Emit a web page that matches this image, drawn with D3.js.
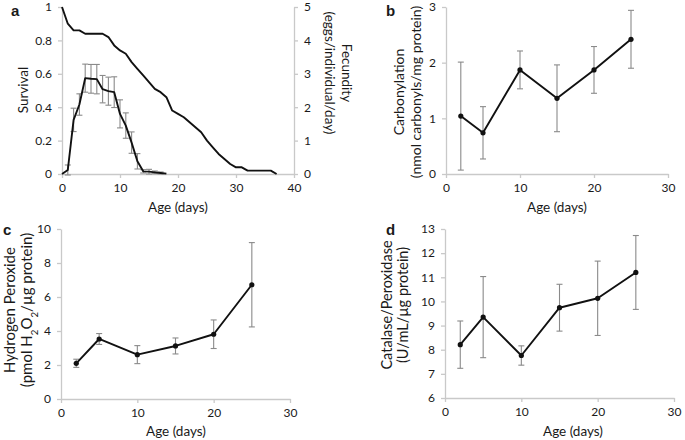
<!DOCTYPE html>
<html><head><meta charset="utf-8">
<script src="https://cdn.jsdelivr.net/npm/d3@7"></script>
<style>
body{margin:0;background:#fff}
text{font-family:Lato,"Open Sans",sans-serif;fill:#1a1a1a}
</style></head>
<body><svg id="chart" width="685" height="440"></svg>
<script>
// ---- Panel a data ----
const survivalDays = [0,1,2,3,4,5,6,7,8,9,10,11,12,13,14,15,16,17,18,19,20,21,22,23,24,25,26,27,28,29,30,31,32,33,34,35,36,37];
const survival = [1.00,0.90,0.86,0.86,0.84,0.84,0.84,0.84,0.82,0.77,0.74,0.72,0.67,0.63,0.59,0.55,0.51,0.49,0.46,0.38,0.36,0.34,0.31,0.28,0.25,0.20,0.16,0.12,0.09,0.06,0.04,0.04,0.02,0.02,0.02,0.02,0.02,0.00];
const fecundityDays = [0,1,2,3,4,5,6,7,8,9,10,11,12,13,14,15,16,17,18];
const fecundity = [0,0.12,1.62,2.08,2.87,2.85,2.84,2.54,2.48,2.45,1.80,1.45,0.94,0.38,0.08,0.07,0.05,0.03,0.01];
const fecundityErr = [0,0.15,0.35,0.32,0.42,0.43,0.44,0.41,0.42,0.46,0.42,0.38,0.32,0.23,0.05,0.07,0.04,0.03,0];
const survivalTicks = [0,0.2,0.4,0.6,0.8,1];
const survivalTickLabels = ["0","0.2","0.4","0.6","0.8","1"];
const fecundityTicks = [0,1,2,3,4,5];
const ageTicksA = [0,10,20,30,40];

// ---- Panels b, c, d data ----
const ages = [2,5,10,15,20,25];
const ageTicks = [0,10,20,30];
const carbonylation = [1.04,0.74,1.87,1.36,1.87,2.42];
const carbonylationErr = [0.97,0.47,0.34,0.60,0.42,0.52];
const carbonylationTicks = [0,1,2,3];
const peroxide = [2.10,3.53,2.61,3.12,3.81,6.72];
const peroxideErr = [0.24,0.32,0.53,0.47,0.84,2.48];
const peroxideTicks = [0,2,4,6,8,10];
const catalase = [8.21,9.35,7.76,9.74,10.13,11.20];
const catalaseErr = [0.98,1.68,0.40,0.97,1.54,1.53];
const catalaseTicks = [6,7,8,9,10,11,12,13];

const svg = d3.select("#chart");
const AXIS = "#c9c9c9", ERR = "#8a8a8a", TICKFS = "12px";

function styleAxis(g){
  g.select(".domain").attr("stroke",AXIS).attr("stroke-width",1.3);
  g.selectAll(".tick line").attr("stroke",AXIS).attr("stroke-width",1.3);
  g.selectAll(".tick text").style("font-size",TICKFS).attr("fill","#1a1a1a");
}

function drawAxes(x,y,yTicks,yLabels,ox){
  const [xa]=x.range(), [ya]=y.range();
  svg.append("g").attr("transform",`translate(0,${ya})`)
    .call(d3.axisBottom(x).tickValues(ox).tickSize(4).tickSizeOuter(0).tickPadding(5))
    .call(styleAxis);
  svg.append("g").attr("transform",`translate(${xa},0)`)
    .call(d3.axisLeft(y).tickValues(yTicks).tickSize(4).tickSizeOuter(0).tickPadding(6)
      .tickFormat((d,i)=>yLabels?yLabels[i]:d))
    .call(styleAxis);
}

function errBars(x,y,xs,vals,errs){
  const g = svg.append("g").attr("stroke",ERR).attr("stroke-width",1.1);
  xs.forEach((d,i)=>{
    if(!errs[i]) return;
    const cx=x(d), t=y(vals[i]+errs[i]), b=y(vals[i]-errs[i]);
    g.append("line").attr("x1",cx).attr("x2",cx).attr("y1",t).attr("y2",b);
    g.append("line").attr("x1",cx-3).attr("x2",cx+3).attr("y1",t).attr("y2",t);
    g.append("line").attr("x1",cx-3).attr("x2",cx+3).attr("y1",b).attr("y2",b);
  });
}

function seriesLine(x,y,xs,vals,markers){
  svg.append("path").datum(xs.map((d,i)=>[d,vals[i]]))
    .attr("fill","none").attr("stroke","#111").attr("stroke-width",1.9)
    .attr("stroke-linejoin","round")
    .attr("d",d3.line().x(d=>x(d[0])).y(d=>y(d[1])));
  if(markers){
    svg.append("g").selectAll("circle").data(xs).join("circle")
      .attr("cx",d=>x(d)).attr("cy",(d,i)=>y(vals[i])).attr("r",2.6).attr("fill","#111");
  }
}

function letter(t,xp,yp){
  svg.append("text").attr("x",xp).attr("y",yp).text(t)
    .style("font-family","'Liberation Sans',Arial,sans-serif").style("font-weight","bold").style("font-size","15px");
}
function xTitle(xp,yp){
  svg.append("text").attr("x",xp).attr("y",yp).attr("text-anchor","middle").style("font-size","13.5px").text("Age (days)");
}
function yTitle(lines,xp,yp,rot,fs,dy){
  const t = svg.append("text").attr("transform",`translate(${xp},${yp}) rotate(${rot})`)
    .attr("text-anchor","middle").style("font-size",fs+"px");
  lines.forEach((l,i)=>{
    const ts = t.append("tspan").attr("x",0).attr("dy",i===0?0:dy);
    if(typeof l==="string") ts.text(l);
    else l.forEach(p=>{
      const s=ts.append("tspan").text(p.t);
      if(p.sub) s.attr("baseline-shift","sub").style("font-size",(fs*0.65)+"px");
    });
  });
}

// ---- Panel a ----
{
  const x=d3.scaleLinear().domain([0,40]).range([62,294]);
  const y=d3.scaleLinear().domain([0,1]).range([174,7]);
  const y2=d3.scaleLinear().domain([0,5]).range([174,7]);
  drawAxes(x,y,survivalTicks,survivalTickLabels,ageTicksA);
  svg.append("g").attr("transform","translate(294,0)")
    .call(d3.axisRight(y2).tickValues(fecundityTicks).tickSize(4).tickSizeOuter(0).tickPadding(6).tickFormat(d3.format("d")))
    .call(styleAxis);
  errBars(x,y2,fecundityDays,fecundity,fecundityErr);
  seriesLine(x,y,survivalDays,survival,false);
  seriesLine(x,y2,fecundityDays,fecundity,false);
  letter("a",11,16);
  xTitle(178,212);
  yTitle(["Survival"],28,90,-90,13.5,0);
  yTitle(["Fecundity","(eggs/individual/day)"],342,73,90,13.5,"1.25em");
}
// ---- Panel b ----
{
  const x=d3.scaleLinear().domain([0,30]).range([446,668]);
  const y=d3.scaleLinear().domain([0,3]).range([174,7]);
  drawAxes(x,y,carbonylationTicks,null,ageTicks);
  errBars(x,y,ages,carbonylation,carbonylationErr);
  seriesLine(x,y,ages,carbonylation,true);
  letter("b",386,16);
  xTitle(557,212);
  yTitle(["Carbonylation","(nmol carbonyls/mg protein)"],404,92,-90,14,"1.2em");
}
// ---- Panel c ----
{
  const x=d3.scaleLinear().domain([0,30]).range([61,290]);
  const y=d3.scaleLinear().domain([0,10]).range([399,229]);
  drawAxes(x,y,peroxideTicks,null,ageTicks);
  errBars(x,y,ages,peroxide,peroxideErr);
  seriesLine(x,y,ages,peroxide,true);
  letter("c",3,235);
  xTitle(176,436);
  yTitle(["Hydrogen Peroxide",[{t:"(pmol H"},{t:"2",sub:true},{t:"O"},{t:"2",sub:true},{t:"/µg protein)"}]],15,310,-90,15,"1.13em");
}
// ---- Panel d ----
{
  const x=d3.scaleLinear().domain([0,30]).range([445,674]);
  const y=d3.scaleLinear().domain([6,13]).range([398,229]);
  drawAxes(x,y,catalaseTicks,null,ageTicks);
  errBars(x,y,ages,catalase,catalaseErr);
  seriesLine(x,y,ages,catalase,true);
  letter("d",386,235);
  xTitle(573,436);
  yTitle(["Catalase/Peroxidase","(U/mL/µg protein)"],392,305,-90,14.5,"1.1em");
}
</script></body></html>
